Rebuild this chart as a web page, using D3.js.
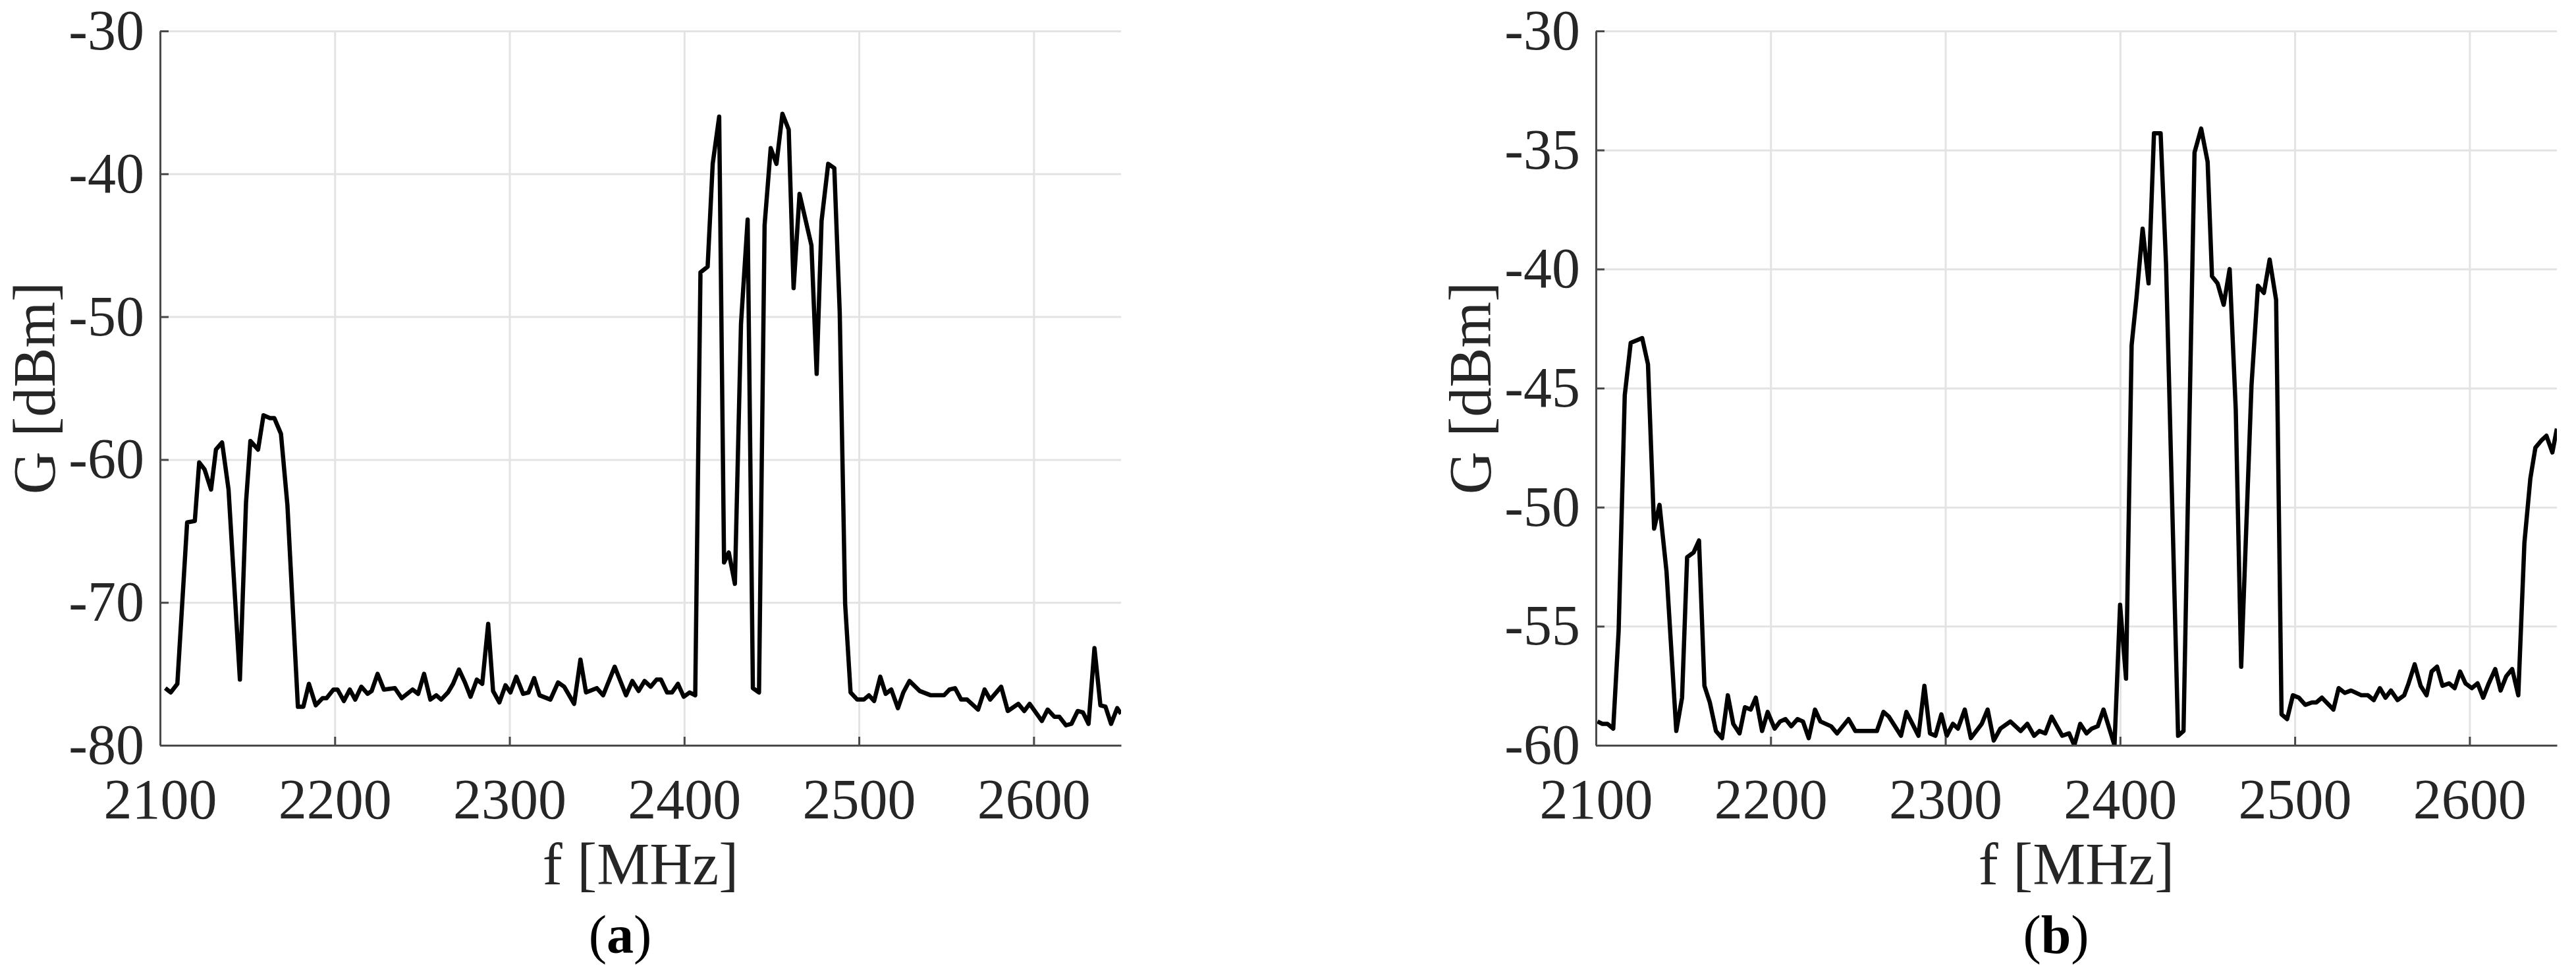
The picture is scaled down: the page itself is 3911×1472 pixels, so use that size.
<!DOCTYPE html>
<html>
<head>
<meta charset="utf-8">
<script src="https://cdn.jsdelivr.net/npm/d3@7"></script>
<style>
  body { margin: 0; background: #fff; }
  svg text { font-family: "Liberation Serif", "Times New Roman", serif; }
</style>
</head>
<body>
<div id="chart"></div>
<script>
// spectrum (a)
const freqA = [2103.0,2106.1,2109.9,2115.5,2119.9,2122.4,2125.5,2129.2,2132.0,2135.5,2139.2,2145.7,2149.2,2151.7,2156.1,2159.2,2162.9,2165.4,2169.2,2172.9,
  2178.9,2182.0,2185.2,2189.1,2193.0,2195.3,2199.2,2201.6,2205.2,2208.6,2211.7,2215.2,2218.8,2221.1,2224.5,2228.1,2234.4,2238.3,2244.5,2247.7,
  2251.1,2254.7,2258.1,2260.9,2264.8,2267.7,2271.1,2274.5,2277.7,2281.3,2284.4,2287.8,2290.6,2294.2,2297.7,2300.5,2303.9,2307.8,2310.9,2314.1,
  2317.2,2323.4,2327.8,2331.3,2337.0,2340.6,2343.8,2350.0,2353.6,2360.2,2366.7,2370.3,2373.9,2377.3,2380.8,2384.2,2386.7,2390.2,2393.0,2396.4,
  2399.7,2403.1,2406.3,2409.3,2413.4,2416.3,2420.0,2422.8,2425.5,2429.0,2432.5,2436.3,2439.3,2442.8,2446.0,2449.5,2452.8,2456.2,2459.8,2462.6,
  2466.0,2472.8,2475.8,2478.6,2482.4,2485.9,2489.0,2492.1,2495.2,2499.0,2502.8,2505.7,2508.7,2512.2,2515.3,2518.5,2522.3,2525.4,2528.9,2534.8,
  2541.1,2548.7,2551.8,2555.0,2558.5,2561.9,2568.2,2571.9,2575.1,2581.4,2585.2,2591.2,2594.6,2597.7,2604.7,2608.0,2611.8,2614.7,2618.5,2621.6,
  2625.2,2628.2,2631.4,2634.8,2638.2,2641.1,2644.3,2647.8,2650.0];
const gainA = [-76.0,-76.3,-75.7,-64.4,-64.3,-60.2,-60.7,-62.1,-59.3,-58.8,-62.1,-75.4,-63.0,-58.7,-59.3,-56.9,-57.1,-57.1,-58.2,-63.2,
  -77.3,-77.3,-75.7,-77.2,-76.7,-76.7,-76.1,-76.1,-76.9,-76.1,-76.8,-75.9,-76.4,-76.2,-75.0,-76.1,-76.0,-76.7,-76.1,-76.4,
  -75.0,-76.8,-76.5,-76.8,-76.3,-75.7,-74.7,-75.6,-76.6,-75.4,-75.7,-71.5,-76.2,-77.0,-75.8,-76.3,-75.2,-76.4,-76.3,-75.3,
  -76.5,-76.8,-75.6,-75.9,-77.1,-74.0,-76.3,-76.0,-76.5,-74.5,-76.5,-75.5,-76.2,-75.5,-75.9,-75.4,-75.4,-76.3,-76.3,-75.7,
  -76.6,-76.3,-76.5,-46.9,-46.5,-39.3,-36.0,-67.2,-66.5,-68.7,-50.5,-43.2,-76.0,-76.3,-43.6,-38.2,-39.3,-35.8,-36.9,-48.0,
  -41.4,-45.0,-54.0,-43.3,-39.3,-39.6,-49.7,-70.1,-76.3,-76.8,-76.8,-76.5,-76.9,-75.2,-76.4,-76.1,-77.4,-76.3,-75.5,-76.2,
  -76.5,-76.5,-76.1,-76.0,-76.8,-76.8,-77.5,-76.1,-76.8,-75.9,-77.6,-77.1,-77.6,-77.1,-78.3,-77.5,-78.0,-78.0,-78.6,-78.5,
  -77.6,-77.7,-78.5,-73.2,-77.2,-77.3,-78.5,-77.4,-77.8];

// spectrum (b)
const freqB = [2100.9,2103.7,2106.6,2109.9,2113.0,2116.5,2119.9,2126.5,2129.8,2133.3,2136.4,2140.4,2146.0,2149.3,2152.2,2155.9,2159.0,2162.1,2165.2,2168.7,
  2172.2,2175.5,2178.6,2182.2,2185.3,2188.6,2191.5,2195.1,2198.3,2202.3,2205.4,2208.5,2211.8,2215.4,2218.5,2221.8,2225.4,2228.5,2234.6,2238.0,
  2244.6,2248.5,2257.7,2260.8,2264.6,2267.7,2274.6,2277.7,2284.6,2288.0,2291.2,2294.3,2297.7,2300.8,2304.3,2307.2,2311.1,2314.6,2320.8,2324.2,
  2327.7,2331.5,2337.2,2343.1,2346.9,2350.8,2353.8,2357.2,2360.8,2366.9,2370.8,2373.8,2377.2,2380.8,2383.8,2387.2,2390.5,2396.8,2400.0,2403.4,
  2406.6,2409.4,2412.9,2416.3,2419.4,2423.2,2426.3,2433.2,2436.3,2442.6,2446.4,2450.1,2452.6,2455.8,2459.3,2462.7,2466.2,2469.3,2475.2,2478.9,
  2482.3,2485.6,2489.3,2492.4,2495.6,2498.9,2502.3,2506.0,2509.8,2512.3,2515.5,2522.1,2525.1,2528.6,2532.2,2538.1,2541.8,2545.2,2548.7,2551.9,
  2555.0,2558.8,2562.6,2565.1,2568.6,2572.0,2575.4,2578.3,2581.4,2584.5,2588.3,2591.5,2594.6,2597.7,2601.3,2604.6,2607.8,2611.0,2614.7,2617.8,
  2621.0,2624.4,2627.9,2631.4,2634.8,2637.7,2641.1,2644.0,2647.4,2650.0];
const gainB = [-59.0,-59.1,-59.1,-59.3,-55.2,-45.3,-43.1,-42.9,-44.0,-50.9,-49.9,-52.7,-59.4,-58.0,-52.1,-51.9,-51.4,-57.5,-58.2,-59.4,
  -59.7,-57.9,-59.1,-59.5,-58.4,-58.5,-58.0,-59.4,-58.6,-59.3,-59.0,-58.9,-59.2,-58.9,-59.0,-59.7,-58.5,-59.0,-59.2,-59.5,
  -58.9,-59.4,-59.4,-59.4,-58.6,-58.8,-59.6,-58.6,-59.6,-57.5,-59.5,-59.6,-58.7,-59.6,-59.1,-59.3,-58.5,-59.7,-59.1,-58.5,
  -59.8,-59.3,-59.0,-59.4,-59.1,-59.6,-59.4,-59.5,-58.8,-59.6,-59.5,-60.0,-59.1,-59.5,-59.3,-59.2,-58.5,-60.0,-54.1,-57.2,
  -43.2,-41.2,-38.3,-40.6,-34.3,-34.3,-39.8,-59.6,-59.4,-35.1,-34.1,-35.5,-40.3,-40.6,-41.5,-40.0,-45.9,-56.7,-44.9,-40.7,
  -41.0,-39.6,-41.3,-58.7,-58.9,-57.9,-58.0,-58.3,-58.2,-58.2,-58.0,-58.5,-57.6,-57.8,-57.7,-57.9,-57.9,-58.1,-57.6,-58.0,
  -57.7,-58.1,-57.9,-57.4,-56.6,-57.5,-57.9,-56.9,-56.7,-57.5,-57.4,-57.6,-56.9,-57.4,-57.6,-57.4,-58.0,-57.4,-56.8,-57.7,
  -57.1,-56.8,-57.9,-51.5,-48.8,-47.5,-47.2,-47.0,-47.7,-46.7];

const xTicks = [2100, 2200, 2300, 2400, 2500, 2600];
const yTicksA = [-80, -70, -60, -50, -40, -30];
const yTicksB = [-60, -55, -50, -45, -40, -35, -30];

const W = 3911, H = 1472;
const plotTop = 47, plotBottom = 1131;
const plotW = 1459;

const svg = d3.select("#chart")
  .append("svg")
  .attr("width", W)
  .attr("height", H)
  .style("display", "block");

svg.append("rect").attr("width", W).attr("height", H).attr("fill", "#fff");

// plain numbers, hyphen minus, no thousands comma
const fmt = d => String(d);

function drawPanel(left, freq, gain, yDomain, yTicks, tag, id) {
  const h = plotBottom - plotTop;
  const x = d3.scaleLinear().domain([2100, 2650]).range([0, plotW]);
  const y = d3.scaleLinear().domain(yDomain).range([h, 0]);

  const g = svg.append("g").attr("transform", `translate(${left},${plotTop})`);

  g.append("clipPath").attr("id", "clip" + id)
    .append("rect").attr("width", plotW).attr("height", h);

  // grid
  g.append("g")
    .attr("transform", `translate(0,${h})`)
    .call(d3.axisBottom(x).tickValues(xTicks).tickSize(-h).tickFormat(""))
    .call(s => s.select(".domain").remove())
    .selectAll("line").attr("stroke", "#e3e3e3").attr("stroke-width", 3);
  g.append("g")
    .call(d3.axisLeft(y).tickValues(yTicks).tickSize(-plotW).tickFormat(""))
    .call(s => s.select(".domain").remove())
    .selectAll("line").attr("stroke", "#e3e3e3").attr("stroke-width", 3);

  const line = d3.line().x((d, i) => x(freq[i])).y(d => y(d));
  g.append("path")
    .datum(gain)
    .attr("clip-path", `url(#clip${id})`)
    .attr("fill", "none")
    .attr("stroke", "#000")
    .attr("stroke-width", 6.5)
    .attr("stroke-linejoin", "round")
    .attr("d", line);

  // axes
  const xAxis = g.append("g")
    .attr("transform", `translate(0,${h})`)
    .call(d3.axisBottom(x).tickValues(xTicks).tickFormat(fmt)
      .tickSize(-13).tickSizeOuter(0).tickPadding(50));
  const yAxis = g.append("g")
    .call(d3.axisLeft(y).tickValues(yTicks).tickFormat(fmt)
      .tickSize(-13).tickSizeOuter(0).tickPadding(24));

  [xAxis, yAxis].forEach(a => {
    a.select(".domain").attr("stroke", "#4a4a4a").attr("stroke-width", 3);
    a.selectAll(".tick line").attr("stroke", "#4a4a4a").attr("stroke-width", 3);
    a.selectAll("text")
      .attr("fill", "#262626")
      .style("font-family", "'Liberation Serif', serif")
      .style("font-size", "86px");
  });

  g.append("text")
    .attr("x", plotW / 2)
    .attr("y", 1342 - plotTop)
    .attr("text-anchor", "middle")
    .attr("fill", "#262626")
    .style("font-size", "90px")
    .text("f [MHz]");

  g.append("text")
    .attr("transform", `translate(-160,${h / 2}) rotate(-90)`)
    .attr("text-anchor", "middle")
    .attr("fill", "#262626")
    .style("font-size", "90px")
    .text("G [dBm]");

  const lab = g.append("text")
    .attr("x", plotW / 2 - 31)
    .attr("y", 1446 - plotTop)
    .attr("text-anchor", "middle")
    .attr("fill", "#000")
    .style("font-size", "82px");
  lab.append("tspan").text("(");
  lab.append("tspan").attr("font-weight", "bold").text(tag);
  lab.append("tspan").text(")");
}

drawPanel(243, freqA, gainA, [-80, -30], yTicksA, "a", "A");
drawPanel(2423, freqB, gainB, [-60, -30], yTicksB, "b", "B");
</script>
</body>
</html>
